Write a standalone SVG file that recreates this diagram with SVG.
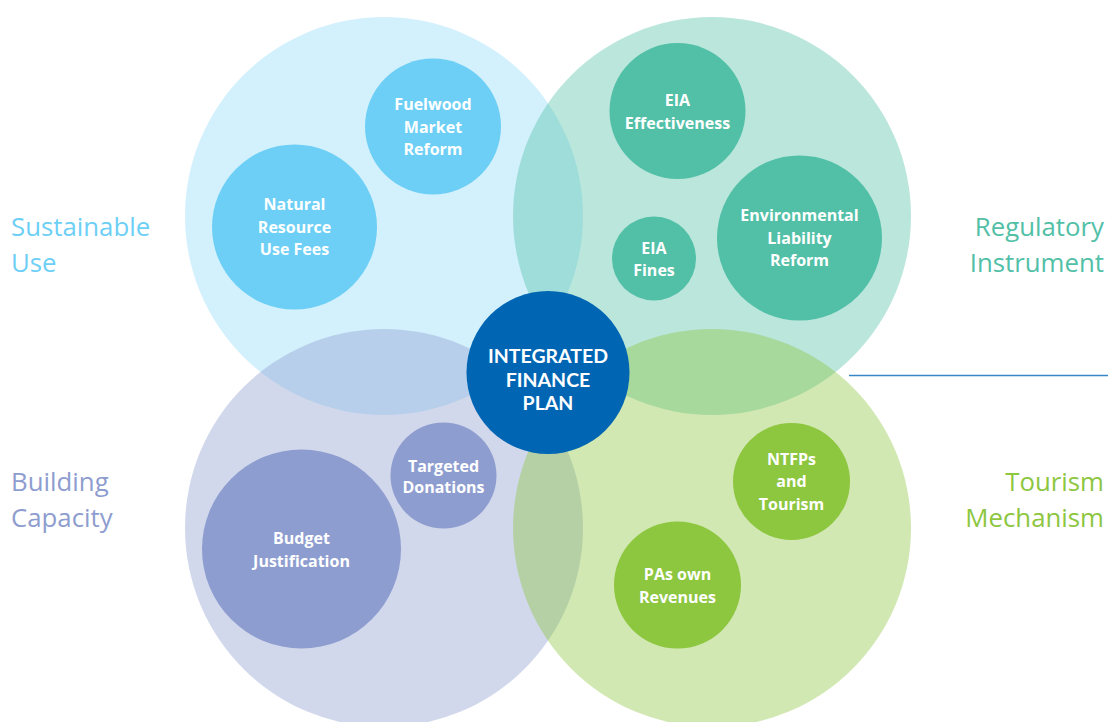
<svg xmlns="http://www.w3.org/2000/svg" width="1108" height="722" viewBox="0 0 1108 722">
<style>
.big{opacity:0.4}
.t{font-family:"Open Sans","Noto Sans","DejaVu Sans",sans-serif;font-weight:700;font-size:16px;fill:#ffffff;text-anchor:middle}
.c{font-family:Lato,"Open Sans","DejaVu Sans",sans-serif;font-weight:700;font-size:19.5px;fill:#ffffff;text-anchor:middle}
.lab{font-family:"Open Sans","Noto Sans","DejaVu Sans",sans-serif;font-weight:400;font-size:25.8px}
</style>
<rect width="1108" height="722" fill="#ffffff"/>
<g id="sustainable-use">
<circle cx="384" cy="216" r="199" fill="#6dcff6" opacity="0.3"/>
</g>
<g id="regulatory-instrument">
<circle class="big" cx="712" cy="216" r="199" fill="#52c0a7"/>
</g>
<g id="building-capacity">
<circle class="big" cx="384" cy="528" r="199" fill="#8e9dcf"/>
</g>
<g id="tourism-mechanism">
<circle class="big" cx="712" cy="528" r="199" fill="#8dc63f"/>
</g>
<g id="connectors">
<line x1="849" y1="375.5" x2="1108" y2="375.5" stroke="#3a87c8" stroke-width="1.5"/>
</g>
<g id="fuelwood">
<circle cx="433" cy="126.5" r="68" fill="#6dcff6"/>
<text class="t" x="433" y="110">Fuelwood</text>
<text class="t" x="433" y="132.5">Market</text>
<text class="t" x="433" y="155">Reform</text>
</g>
<g id="natural-resource">
<circle cx="294.5" cy="227" r="82.5" fill="#6dcff6"/>
<text class="t" x="294.5" y="210">Natural</text>
<text class="t" x="294.5" y="232.5">Resource</text>
<text class="t" x="294.5" y="255">Use Fees</text>
</g>
<g id="eia-effectiveness">
<circle cx="677.5" cy="111" r="68" fill="#52c0a7"/>
<text class="t" x="677.5" y="106">EIA</text>
<text class="t" x="677.5" y="128.5">Effectiveness</text>
</g>
<g id="env-liability">
<circle cx="799.5" cy="238" r="82.5" fill="#52c0a7"/>
<text class="t" x="799.5" y="221">Environmental</text>
<text class="t" x="799.5" y="243.5">Liability</text>
<text class="t" x="799.5" y="266">Reform</text>
</g>
<g id="eia-fines">
<circle cx="654" cy="258.5" r="42" fill="#52c0a7"/>
<text class="t" x="654" y="254">EIA</text>
<text class="t" x="654" y="276">Fines</text>
</g>
<g id="targeted-donations">
<circle cx="443.5" cy="475.5" r="53" fill="#8e9dcf"/>
<text class="t" x="443.5" y="471.5">Targeted</text>
<text class="t" x="443.5" y="493">Donations</text>
</g>
<g id="budget-justification">
<circle cx="301.5" cy="549" r="99.5" fill="#8e9dcf"/>
<text class="t" x="301.5" y="544">Budget</text>
<text class="t" x="301.5" y="566.5">Justification</text>
</g>
<g id="ntfps-tourism">
<circle cx="791.5" cy="481.5" r="58.5" fill="#8dc63f"/>
<text class="t" x="791.5" y="465">NTFPs</text>
<text class="t" x="791.5" y="487">and</text>
<text class="t" x="791.5" y="509.5">Tourism</text>
</g>
<g id="pas-own-revenues">
<circle cx="677.5" cy="585" r="63.5" fill="#8dc63f"/>
<text class="t" x="677.5" y="580">PAs own</text>
<text class="t" x="677.5" y="603">Revenues</text>
</g>
<g id="integrated-finance-plan">
<circle cx="548" cy="372.5" r="81.5" fill="#0066b3"/>
<text class="c" x="548" y="362.5">INTEGRATED</text>
<text class="c" x="548" y="386.5">FINANCE</text>
<text class="c" x="548" y="410">PLAN</text>
</g>
<g id="labels">
<text class="lab" x="11" y="236" fill="#6dcff6">Sustainable</text>
<text class="lab" x="11" y="272" fill="#6dcff6">Use</text>
<text class="lab" x="1104" y="236" fill="#52c0a7" text-anchor="end">Regulatory</text>
<text class="lab" x="1104" y="272" fill="#52c0a7" text-anchor="end">Instrument</text>
<text class="lab" x="11" y="491" fill="#8e9dcf">Building</text>
<text class="lab" x="11" y="527" fill="#8e9dcf">Capacity</text>
<text class="lab" x="1104" y="491" fill="#8dc63f" text-anchor="end">Tourism</text>
<text class="lab" x="1104" y="527" fill="#8dc63f" text-anchor="end">Mechanism</text>
</g>
</svg>
